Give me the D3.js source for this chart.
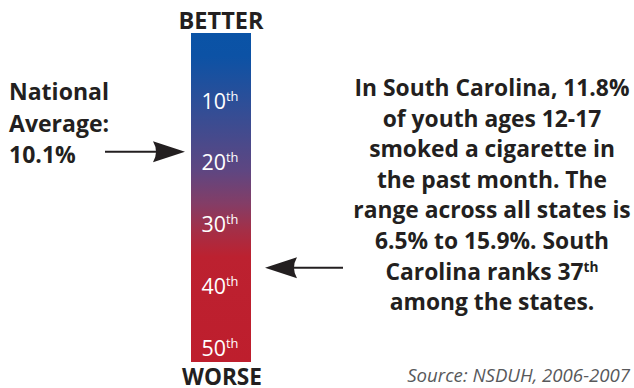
<!DOCTYPE html>
<html><head><meta charset="utf-8">
<script src="https://cdn.jsdelivr.net/npm/d3@7/dist/d3.min.js"></script>
<style>
html,body{margin:0;padding:0;background:#fff;}
svg{display:block;}
</style></head>
<body>
<svg id="chart" width="634" height="388"></svg>
<script>
// ---- data ----
const rankTicks = [10, 20, 30, 40, 50];
const rankDomain = [10, 50];
const nationalAverageRank = 18.2;   // position of national-average arrow (estimated)
const stateRank = 37;               // South Carolina rank
const topLabel = "BETTER";
const bottomLabel = "WORSE";
const leftLines = ["National", "Average:", "10.1%"];
const rightLines = [
  ["In South Carolina, 11.8%"],
  ["of youth ages 12-17"],
  ["smoked a cigarette in"],
  ["the past month. The"],
  ["range across all states is"],
  ["6.5% to 15.9%. South"],
  ["Carolina ranks 37", "th"],
  ["among the states."]
];
const sourceText = "Source: NSDUH, 2006-2007";

// ---- drawing ----
const svg = d3.select("#chart");
const ink = "#231f20";
const font = "'Open Sans', 'Noto Sans', sans-serif";

// fit a font size so that a sample string reaches a target width
function fitSize(str, target, weight, style) {
  const t = svg.append("text").attr("font-family", font).attr("font-size", 20)
    .attr("font-weight", weight || 400).attr("font-style", style || "normal").text(str);
  const w = t.node().getComputedTextLength();
  t.remove();
  return 20 * target / w;
}

const y = d3.scaleLinear().domain(rankDomain).range([101, 348]);
const barX = 191, barW = 60, barTop = 33, barBottom = 362;

const defs = svg.append("defs");
const grad = defs.append("linearGradient").attr("id", "g")
  .attr("x1", 0).attr("y1", 0).attr("x2", 0).attr("y2", 1);
[[0, "#0a53a6"], [0.07, "#0c52a5"], [0.22, "#2f4e97"], [0.42, "#5f4681"],
 [0.52, "#843d66"], [0.60, "#a42f47"], [0.68, "#bc2130"], [1, "#be1e2d"]]
  .forEach(([o, c]) => grad.append("stop").attr("offset", o).attr("stop-color", c));

svg.append("rect").attr("x", barX).attr("y", barTop)
  .attr("width", barW).attr("height", barBottom - barTop)
  .attr("fill", "url(#g)");

// tick labels
const tickSize = fitSize("10", 24.5, 400);
const tl = svg.append("g").selectAll("text").data(rankTicks).join("text")
  .attr("x", barX + barW / 2 - 1)
  .attr("y", d => y(d) + 7.5)
  .attr("text-anchor", "middle")
  .attr("fill", "#fff")
  .attr("font-family", font)
  .attr("font-size", tickSize);
tl.append("tspan").text(d => d);
tl.append("tspan").text("th").attr("font-size", tickSize * 0.6).attr("dy", -8);

// BETTER / WORSE
svg.append("text").attr("x", 221).attr("y", 29).attr("text-anchor", "middle")
  .attr("font-family", font).attr("font-weight", 700)
  .attr("font-size", fitSize(topLabel, 85, 700))
  .attr("fill", ink).text(topLabel);
svg.append("text").attr("x", 222).attr("y", 385).attr("text-anchor", "middle")
  .attr("font-family", font).attr("font-weight", 700)
  .attr("font-size", fitSize(bottomLabel, 80, 700))
  .attr("fill", ink).text(bottomLabel);

// arrows
function arrow(x0, x1, yy) {
  const dir = Math.sign(x1 - x0);
  const headL = 32, headH = 10.5, notch = 6;
  const g = svg.append("g");
  g.append("line").attr("x1", x0).attr("x2", x1 - dir * (headL - notch))
    .attr("y1", yy).attr("y2", yy).attr("stroke", ink).attr("stroke-width", 2);
  g.append("path").attr("fill", ink).attr("d",
    `M${x1},${yy} L${x1 - dir * headL},${yy - headH} Q${x1 - dir * (headL - notch)},${yy} ${x1 - dir * headL},${yy + headH} Z`);
}
arrow(105, 185, y(nationalAverageRank));
arrow(343, 265, y(stateRank));

// left text
const leftSize = fitSize(leftLines[0], 100, 700);
svg.append("g").selectAll("text").data(leftLines).join("text")
  .attr("x", 9).attr("y", (d, i) => 100 + i * 31.5)
  .attr("font-family", font).attr("font-weight", 700).attr("font-size", leftSize)
  .attr("fill", ink).text(d => d);

// right text
const rightSize = fitSize(rightLines[0][0], 275, 700);
const rt = svg.append("g").selectAll("text").data(rightLines).join("text")
  .attr("x", 492).attr("y", (d, i) => 96 + i * 30.6)
  .attr("text-anchor", "middle")
  .attr("font-family", font).attr("font-weight", 700).attr("font-size", rightSize)
  .attr("fill", ink);
rt.each(function(d) {
  const t = d3.select(this);
  t.append("tspan").text(d[0]);
  if (d[1]) t.append("tspan").text(d[1]).attr("font-size", rightSize * 0.6).attr("dy", -8);
});

// source
svg.append("text").attr("x", 630).attr("y", 382).attr("text-anchor", "end")
  .attr("font-family", font).attr("font-style", "italic")
  .attr("font-size", fitSize(sourceText, 223, 400, "italic"))
  .attr("fill", "#58595b").text(sourceText);
</script>
</body></html>
